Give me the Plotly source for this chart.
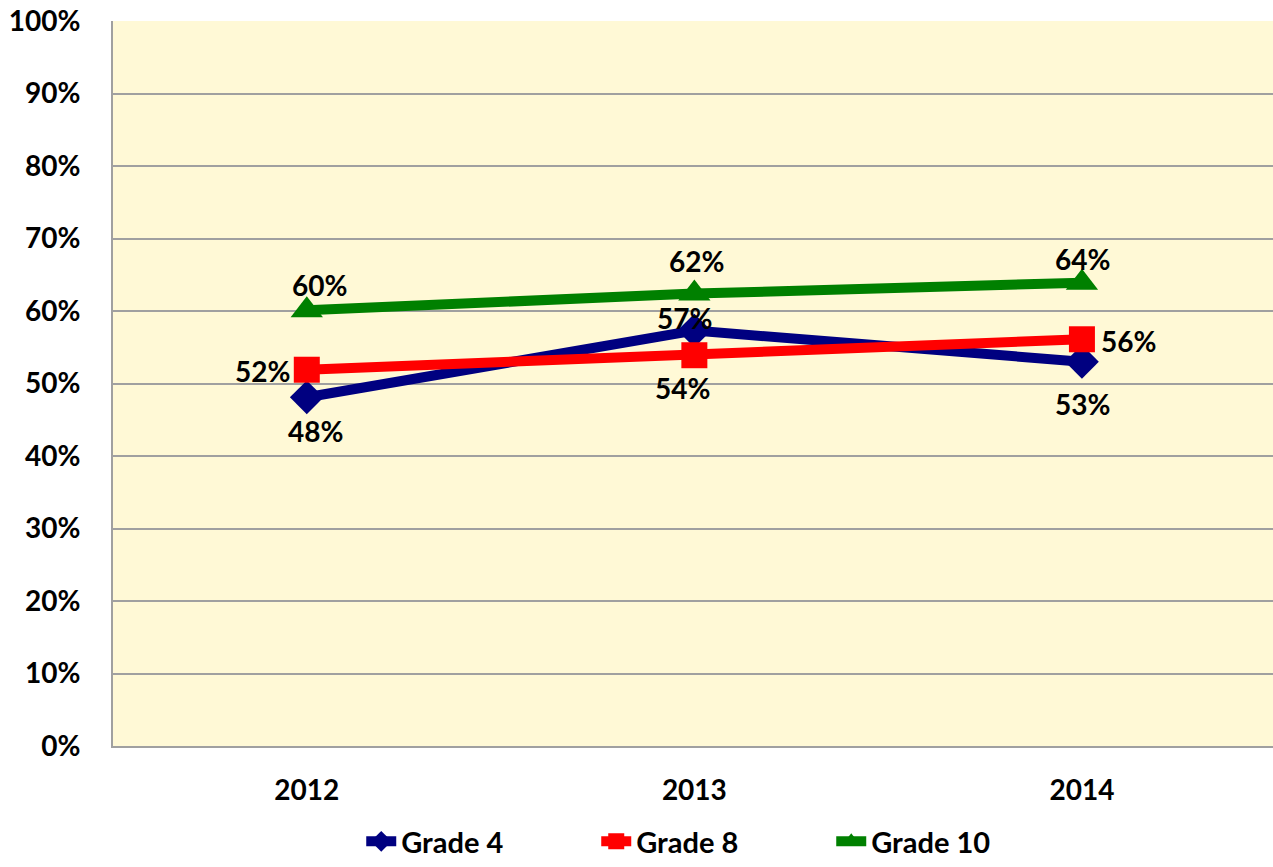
import plotly.graph_objects as go

years = ["2012", "2013", "2014"]
grade4 = [0.481, 0.573, 0.530]
grade8 = [0.519, 0.539, 0.561]
grade10 = [0.601, 0.624, 0.639]
labels4 = ["48%", "57%", "53%"]
labels8 = ["52%", "54%", "56%"]
labels10 = ["60%", "62%", "64%"]
y_ticks = [i / 10 for i in range(11)]
y_tick_text = [f"{i*10}%" for i in range(11)]

# label offsets (pixels) relative to each point: (dx, dy up)
off4 = [(9, -34), (-10, 13), (1, -42)]
off8 = [(-44, -1), (-12, -33), (47, -2)]
off10 = [(13, 25), (2, 33), (1, 24)]

FONT = "Lato, 'Open Sans', sans-serif"
fsize = 28
TF = dict(family=FONT, size=fsize, color="black", weight="bold")

series = [
    ("Grade 4", grade4, labels4, off4, "#000080", "diamond", 26),
    ("Grade 8", grade8, labels8, off8, "#FF0000", "square", 26),
    ("Grade 10", grade10, labels10, off10, "#008000", "triangle-up", 28),
]

fig = go.Figure()
annotations = []
for name, vals, labs, offs, col, sym, msize in series:
    fig.add_trace(go.Scatter(
        x=years, y=vals, name=name, mode="lines+markers",
        line=dict(color=col, width=10),
        marker=dict(symbol=sym, size=msize, color=col),
    ))
    for idx, (yv, lab, (dx, dy)) in enumerate(zip(vals, labs, offs)):
        annotations.append(dict(x=idx, y=yv, xref="x", yref="y", text=lab, showarrow=False,
                                xshift=dx, yshift=dy, font=TF,
                                xanchor="center", yanchor="middle"))

fig.update_layout(
    width=1273, height=867,
    margin=dict(l=113, r=0, t=21, b=120),
    paper_bgcolor="white",
    plot_bgcolor="#FFF9D6",
    font=TF,
    showlegend=True,
    annotations=annotations,
    legend=dict(orientation="h", x=0.214, xanchor="left", y=-0.131, yanchor="middle",
                font=dict(family=FONT, size=29, color="black", weight="bold"),
                entrywidth=190, entrywidthmode="pixels", tracegroupgap=0),
    xaxis=dict(type="category", range=[-0.5, 2.493], showgrid=False,
               showline=True, linecolor="#A0A0A0", linewidth=2,
               ticks="", ticklabelstandoff=18, automargin=False,
               tickfont=TF),
    yaxis=dict(range=[0, 1], tickvals=y_ticks, ticktext=y_tick_text,
               showgrid=True, gridcolor="#A0A0A0", gridwidth=2,
               showline=True, linecolor="#A0A0A0", linewidth=2,
               zeroline=False, ticks="", ticklabelstandoff=25, automargin=False,
               tickfont=TF),
)

fig.write_html("out.html", config={"displayModeBar": False})
with open("out.html", encoding="utf-8") as f:
    html = f.read()
html = html.replace("<head>", "<head><style>html,body{margin:0;padding:0;overflow:hidden;}</style>", 1)
with open("out.html", "w", encoding="utf-8") as f:
    f.write(html)
